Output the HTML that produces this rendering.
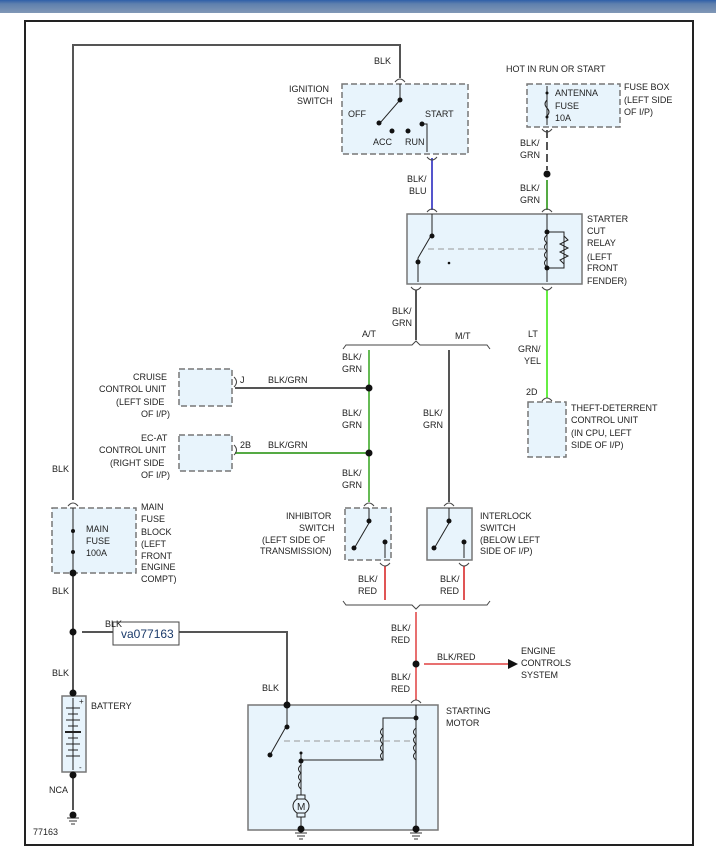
<!DOCTYPE html>
<html><head><meta charset="utf-8"><style>
html,body{margin:0;padding:0;background:#fff;width:716px;height:865px;overflow:hidden}
svg{display:block}
text{font-family:"Liberation Sans",Arial,sans-serif;font-size:9px;fill:#222}
</style></head><body>
<svg width="716" height="865" viewBox="0 0 716 865" xmlns="http://www.w3.org/2000/svg">
<defs>
<linearGradient id="bar" x1="0" y1="0" x2="0" y2="1"><stop offset="0" stop-color="#2f5fa8"/><stop offset="0.3" stop-color="#5f80ad"/><stop offset="1" stop-color="#8198b6"/></linearGradient>
</defs>
<rect x="0" y="0" width="716" height="13" fill="url(#bar)"/>
<rect x="25" y="21" width="668" height="824" fill="none" stroke="#222" stroke-width="2"/>

<g stroke="#555" stroke-width="2" fill="none">
<polyline points="73,500 73,45 400,45 400,78"/>
<line x1="73" y1="575" x2="73" y2="693"/>
<polyline points="82,632 287,632 287,705"/>
<line x1="73" y1="775" x2="73" y2="810"/>
<line x1="416" y1="290" x2="416" y2="340"/>
<line x1="449" y1="350" x2="449" y2="502"/>
<line x1="235" y1="388" x2="369" y2="388"/>
</g>
<!-- colored wires -->
<line x1="432" y1="158" x2="432" y2="210" stroke="#5555cc" stroke-width="2"/>
<line x1="547" y1="130" x2="547" y2="170" stroke="#555" stroke-width="2" stroke-dasharray="8,4"/>
<line x1="547" y1="180" x2="547" y2="210" stroke="#55aa44" stroke-width="2"/>
<line x1="547" y1="290" x2="547" y2="398" stroke="#66ee44" stroke-width="2"/>
<line x1="369" y1="350" x2="369" y2="502" stroke="#66bb55" stroke-width="2"/>
<line x1="235" y1="453" x2="369" y2="453" stroke="#55aa44" stroke-width="2"/>
<line x1="385" y1="566" x2="385" y2="600" stroke="#e05555" stroke-width="2"/>
<line x1="464" y1="566" x2="464" y2="600" stroke="#e05555" stroke-width="2"/>
<line x1="416" y1="612" x2="416" y2="700" stroke="#e87070" stroke-width="2"/>
<line x1="424" y1="664" x2="508" y2="664" stroke="#e87070" stroke-width="2"/>
<polygon points="508,659 518,664 508,669" fill="#111"/>

<!-- brackets -->
<g stroke="#444" fill="none" stroke-width="1">
<polyline points="343,349 346,345 412,345 416,341 420,345 487,345 490,349"/>
<polyline points="343,601 346,605 412,605 416,609 420,605 487,605 490,601"/>
</g>

<!-- boxes -->
<g fill="#e8f4fc" stroke="#777" stroke-width="1.5">
<rect x="342" y="84" width="126" height="70" stroke-dasharray="6,3"/>
<rect x="527" y="84" width="93" height="43" stroke-dasharray="6,3"/>
<rect x="407" y="214" width="175" height="70"/>
<rect x="179" y="369" width="53" height="37" stroke-dasharray="6,3"/>
<rect x="179" y="435" width="53" height="36" stroke-dasharray="6,3"/>
<rect x="528" y="402" width="38" height="55" stroke-dasharray="6,3"/>
<rect x="345" y="508" width="46" height="52" stroke-dasharray="6,3"/>
<rect x="427" y="508" width="45" height="52"/>
<rect x="52" y="508" width="84" height="65" stroke-dasharray="6,3"/>
<rect x="248" y="705" width="190" height="125"/>
<rect x="62" y="696" width="24" height="76"/>
</g>

<!-- connectors (small arcs) -->
<g stroke="#444" fill="none" stroke-width="1">
<path d="M395,82 q5,-6 10,0"/><path d="M427,157 q5,6 10,0"/><path d="M427,212 q5,-6 10,0"/>
<path d="M542,129 q5,6 10,0"/><path d="M542,212 q5,-6 10,0"/><path d="M411,287 q5,6 10,0"/>
<path d="M542,287 q5,6 10,0"/><path d="M542,401 q5,-6 10,0"/><path d="M234,377 q5,5 0,10"/><path d="M234,445 q5,5 0,10"/>
<path d="M364,506 q5,-6 10,0"/><path d="M444,506 q5,-6 10,0"/><path d="M380,563 q5,6 10,0"/><path d="M459,563 q5,6 10,0"/>
<path d="M68,506 q5,-6 10,0"/><path d="M411,703 q5,-6 10,0"/>
</g>

<!-- internal lines -->
<g stroke="#222" fill="none" stroke-width="1">
<polyline points="400,84 400,100 380,123"/>
<polyline points="422,124 427,124 427,152"/>
<polyline points="432,214 432,234 418,258 418,282"/>
<line x1="547" y1="214" x2="547" y2="282"/>
<polyline points="547,232 564,232 564,268 547,268"/>
<polyline points="564,236 568,240 560,244 568,248 560,252 568,256 560,260 564,264"/>
<path d="M547,235 q-5,4 0,8 q-5,4 0,8 q-5,4 0,8 q-5,4 0,8"/>
<line x1="547" y1="86" x2="547" y2="125"/>
<path d="M547,100 q-4,4 0,8 q4,4 0,8" />
<polyline points="369,508 369,523 355,547"/>
<polyline points="385,542 385,558"/>
<polyline points="449,508 449,523 435,547"/>
<polyline points="464,542 464,558"/>
<line x1="73" y1="508" x2="73" y2="573"/>
<polyline points="287,705 287,725 270,755"/>
<line x1="416" y1="705" x2="416" y2="829"/>
<polyline points="416,718 383,718 383,760 301,760"/>
<line x1="301" y1="753" x2="301" y2="800"/>
<circle cx="301" cy="806" r="8" fill="#e8f4fc"/>
<line x1="301" y1="814" x2="301" y2="829"/>
<rect x="297" y="795" width="8" height="4" fill="#e8f4fc"/><rect x="297" y="813" width="8" height="4" fill="#e8f4fc"/>
<line x1="73" y1="698" x2="73" y2="770"/>
</g>
<g stroke="#999" stroke-dasharray="6,4" stroke-width="1"><line x1="428" y1="249" x2="545" y2="249"/><line x1="284" y1="741" x2="416" y2="741"/></g>
<text x="297" y="810" style="font-size:10px">M</text>

<!-- battery plates -->
<g stroke="#222" stroke-width="1">
<line x1="66" y1="708" x2="80" y2="708"/><line x1="68" y1="714" x2="78" y2="714"/><line x1="66" y1="720" x2="80" y2="720"/><line x1="68" y1="726" x2="78" y2="726"/><line x1="65" y1="732" x2="81" y2="732" stroke-width="2"/><line x1="68" y1="738" x2="78" y2="738"/><line x1="66" y1="744" x2="80" y2="744"/><line x1="68" y1="750" x2="78" y2="750"/><line x1="66" y1="756" x2="80" y2="756"/>
</g>
<text x="79" y="704" style="font-size:8px">+</text><text x="79" y="770" style="font-size:8px">-</text>

<!-- grounds -->
<g stroke="#333" stroke-width="1">
<line x1="67" y1="818" x2="79" y2="818"/><line x1="69" y1="821" x2="77" y2="821"/><line x1="71" y1="824" x2="75" y2="824"/>
<line x1="295" y1="833" x2="307" y2="833"/><line x1="297" y1="836" x2="305" y2="836"/><line x1="299" y1="839" x2="303" y2="839"/>
<line x1="410" y1="833" x2="422" y2="833"/><line x1="412" y1="836" x2="420" y2="836"/><line x1="414" y1="839" x2="418" y2="839"/>
</g>

<!-- dots -->
<g fill="#111">
<circle cx="400" cy="100" r="2.5"/><circle cx="379" cy="123" r="2.5"/><circle cx="392" cy="131" r="2.5"/><circle cx="408" cy="131" r="2.5"/><circle cx="422" cy="124" r="2.5"/>
<circle cx="547" cy="174" r="3.5"/>
<circle cx="432" cy="236" r="2.5"/><circle cx="418" cy="262" r="2.5"/><circle cx="449" cy="263" r="1.3"/><circle cx="547" cy="232" r="2.5"/><circle cx="547" cy="268" r="2.5"/>
<circle cx="547" cy="93" r="1.5"/><circle cx="547" cy="117" r="1.5"/>
<circle cx="369" cy="388" r="3.5"/><circle cx="369" cy="453" r="3.5"/>
<circle cx="369" cy="521" r="2.5"/><circle cx="354" cy="548" r="2.5"/><circle cx="385" cy="542" r="2.5"/>
<circle cx="449" cy="521" r="2.5"/><circle cx="434" cy="548" r="2.5"/><circle cx="464" cy="542" r="2.5"/>
<circle cx="73" cy="531" r="2"/><circle cx="73" cy="552" r="2"/><circle cx="73" cy="573" r="3.5"/><circle cx="73" cy="632" r="3.5"/><circle cx="73" cy="693" r="3.5"/><circle cx="73" cy="775" r="3.5"/><circle cx="73" cy="815" r="3.5"/>
<circle cx="416" cy="664" r="3.5"/>
<circle cx="287" cy="705" r="3.5"/><circle cx="287" cy="727" r="2.5"/><circle cx="270" cy="755" r="2.5"/><circle cx="416" cy="718" r="2.5"/><circle cx="301" cy="761" r="2.5"/><circle cx="301" cy="753" r="1.5"/><circle cx="301" cy="829" r="3.5"/><circle cx="416" cy="829" r="3.5"/>
</g>
<g fill="none" stroke="#222" stroke-width="1">
<path d="M383,728 q-5,4 0,8 q-5,4 0,8 q-5,4 0,8 q-5,4 0,8"/>
<path d="M416,728 q-5,4 0,8 q-5,4 0,8 q-5,4 0,8 q-5,4 0,8"/>
<path d="M301,765 q-5,4 0,8 q-5,4 0,8 q-5,4 0,8"/>
</g>

<!-- label box -->
<rect x="113" y="622" width="66" height="23" fill="#fff" stroke="#444"/>
<text x="121" y="638" style="font-size:12px;fill:#1a3a6a">va077163</text>

<!-- texts -->
<text x="374" y="64">BLK</text>
<text x="289" y="92">IGNITION</text><text x="297" y="104">SWITCH</text>
<text x="348" y="117">OFF</text><text x="425" y="117">START</text>
<text x="373" y="145">ACC</text><text x="405" y="145">RUN</text>
<text x="506" y="72">HOT IN RUN OR START</text>
<text x="555" y="96">ANTENNA</text><text x="555" y="109">FUSE</text><text x="555" y="121">10A</text>
<text x="624" y="90">FUSE BOX</text><text x="624" y="103">(LEFT SIDE</text><text x="624" y="115">OF I/P)</text>
<text x="520" y="146">BLK/</text><text x="520" y="158">GRN</text>
<text x="520" y="191">BLK/</text><text x="520" y="203">GRN</text>
<text x="407" y="182">BLK/</text><text x="409" y="194">BLU</text>
<text x="587" y="222">STARTER</text><text x="587" y="234">CUT</text><text x="587" y="246">RELAY</text><text x="587" y="260">(LEFT</text><text x="587" y="271">FRONT</text><text x="587" y="284">FENDER)</text>
<text x="392" y="314">BLK/</text><text x="392" y="326">GRN</text>
<text x="362" y="337">A/T</text><text x="455" y="339">M/T</text>
<text x="528" y="337">LT</text><text x="518" y="352">GRN/</text><text x="524" y="364">YEL</text>
<text x="526" y="395">2D</text>
<text x="571" y="411">THEFT-DETERRENT</text><text x="571" y="423">CONTROL UNIT</text><text x="571" y="436">(IN CPU, LEFT</text><text x="571" y="448">SIDE OF I/P)</text>
<text x="342" y="360">BLK/</text><text x="342" y="372">GRN</text>
<text x="342" y="416">BLK/</text><text x="342" y="428">GRN</text>
<text x="342" y="476">BLK/</text><text x="342" y="488">GRN</text>
<text x="423" y="416">BLK/</text><text x="423" y="428">GRN</text>
<text x="133" y="380">CRUISE</text><text x="99" y="392">CONTROL UNIT</text><text x="116" y="405">(LEFT SIDE</text><text x="141" y="417">OF I/P)</text>
<text x="240" y="383">J</text><text x="268" y="383">BLK/GRN</text>
<text x="141" y="441">EC-AT</text><text x="99" y="453">CONTROL UNIT</text><text x="110" y="466">(RIGHT SIDE</text><text x="141" y="478">OF I/P)</text>
<text x="240" y="448">2B</text><text x="268" y="448">BLK/GRN</text>
<text x="286" y="519">INHIBITOR</text><text x="299" y="531">SWITCH</text><text x="262" y="543">(LEFT SIDE OF</text><text x="260" y="554">TRANSMISSION)</text>
<text x="480" y="519">INTERLOCK</text><text x="480" y="531">SWITCH</text><text x="480" y="543">(BELOW LEFT</text><text x="480" y="554">SIDE OF I/P)</text>
<text x="358" y="582">BLK/</text><text x="358" y="594">RED</text>
<text x="440" y="582">BLK/</text><text x="440" y="594">RED</text>
<text x="391" y="631">BLK/</text><text x="391" y="643">RED</text>
<text x="437" y="660">BLK/RED</text>
<text x="521" y="654">ENGINE</text><text x="521" y="666">CONTROLS</text><text x="521" y="678">SYSTEM</text>
<text x="391" y="680">BLK/</text><text x="391" y="692">RED</text>
<text x="446" y="714">STARTING</text><text x="446" y="726">MOTOR</text>
<text x="262" y="691">BLK</text>
<text x="52" y="472">BLK</text>
<text x="86" y="532">MAIN</text><text x="86" y="544">FUSE</text><text x="86" y="556">100A</text>
<text x="141" y="510">MAIN</text><text x="141" y="522">FUSE</text><text x="141" y="535">BLOCK</text><text x="141" y="547">(LEFT</text><text x="141" y="559">FRONT</text><text x="141" y="570">ENGINE</text><text x="141" y="582">COMPT)</text>
<text x="52" y="594">BLK</text>
<text x="105" y="627">BLK</text>
<text x="52" y="676">BLK</text>
<text x="91" y="709">BATTERY</text>
<text x="49" y="793">NCA</text>
<text x="33" y="835">77163</text>
</svg>
</body></html>
